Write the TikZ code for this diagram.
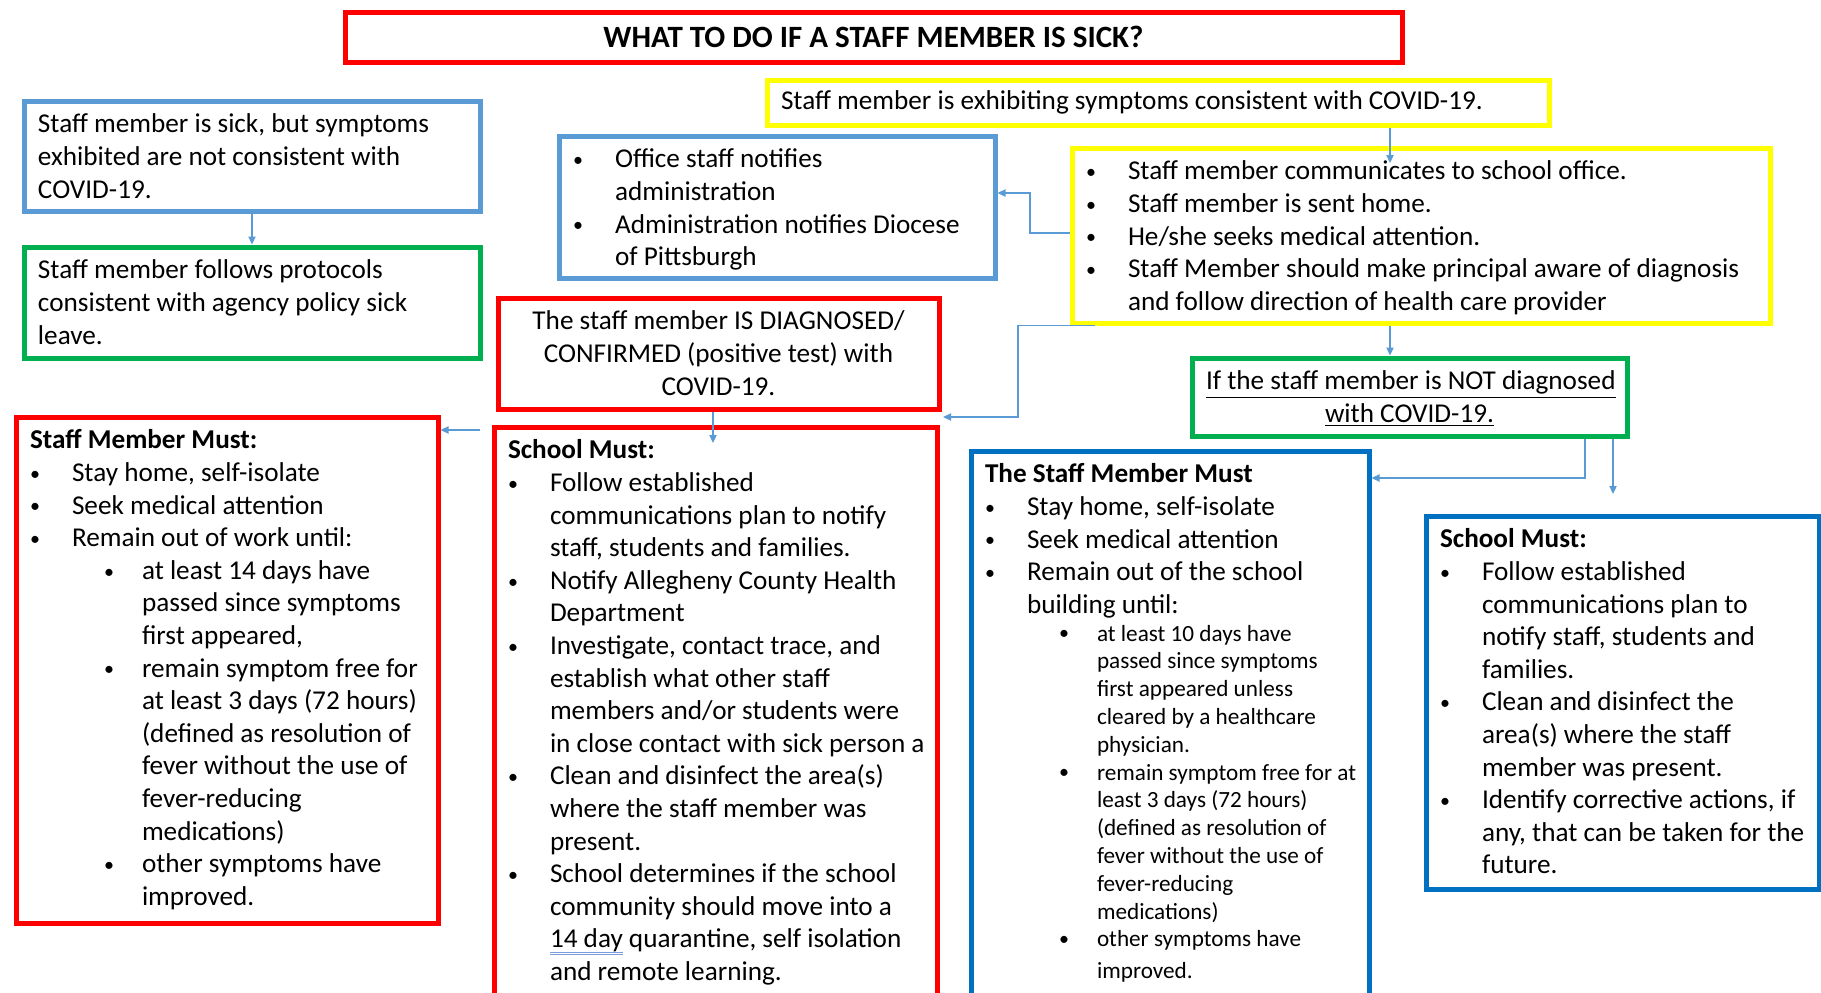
\documentclass[tikz,border=0pt]{standalone}
\usepackage{fontspec}
\setmainfont{Carlito}
\usetikzlibrary{arrows.meta}

\definecolor{boxred}{HTML}{FF0000}
\definecolor{boxblue}{HTML}{5B9BD5}
\definecolor{boxgreen}{HTML}{00B050}
\definecolor{boxyellow}{HTML}{FFFF00}
\definecolor{boxnavy}{HTML}{0070C0}
\definecolor{linkblue}{HTML}{5B9BD5}
\definecolor{ulblue}{HTML}{7B9CDB}

% text block of a box: outer width and height in px
\newcommand{\bx}[3]{\parbox[c][\dimexpr #2pt/2-11.5pt\relax][t]{\dimexpr #1pt/2-16.5pt\relax}{\rightskip=0pt plus 1fil minus 40pt\relax #3}}
\newcommand{\bulletdot}{\raisebox{0.6pt}{\fontsize{10pt}{10pt}\selectfont\textbullet}}
\newcommand{\bul}[1]{\par\hangindent=21pt\hangafter=1\noindent\strut\makebox[21pt][l]{\bulletdot}#1}
\newcommand{\subbul}[1]{\par\hangindent=56pt\hangafter=1\noindent\strut\hspace*{37pt}\makebox[19pt][l]{\bulletdot}#1}
\newlength\ulw
\newcommand{\dbl}[1]{\settowidth{\ulw}{#1}\rlap{\color{ulblue}\rule[-2.4pt]{\ulw}{0.5pt}\llap{\rule[-3.6pt]{\ulw}{0.5pt}}}#1}

\begin{document}
\begin{tikzpicture}[x=0.5pt,y=-0.5pt,
    box/.style={draw, line width=2.5pt, anchor=north west, inner xsep=7pt, inner ysep=4.5pt,
      font=\fontsize{13.6pt}{16.3pt}\selectfont},
    redbox/.style={box, draw=boxred},
    bluebox/.style={box, draw=boxblue},
    greenbox/.style={box, draw=boxgreen},
    yellowbox/.style={box, draw=boxyellow},
    navybox/.style={box, draw=boxnavy},
    link/.style={draw=linkblue, line width=0.75pt, -{Triangle[length=4pt,width=3.6pt]}}]
  \useasboundingbox (0,0) rectangle (1821,992);

  % Titel
  \node[redbox, inner sep=0pt, minimum width=528.5pt, minimum height=25pt,
    font=\fontsize{15.5pt}{18pt}\selectfont\bfseries] (title) at (342.5,9.5)
    {WHAT TO DO IF A STAFF MEMBER IS SICK?};

  % linke Spalte
  \node[bluebox] (sick) at (21.5,98.5) {\bx{461}{115}{\strut Staff member is sick, but symptoms\\
    exhibited are not consistent with\\COVID-19.}};
  \node[greenbox] (prot) at (21.5,244.5) {\bx{461}{116}{\strut Staff member follows protocols\\
    consistent with agency policy sick\\leave.}};

  % Meldung
  \node[yellowbox, inner ysep=0pt, minimum height=22.5pt] (exhib) at (764.5,77.5)
    {\makebox[377pt][l]{\strut Staff member is exhibiting symptoms consistent with COVID-19.}};
  \node[yellowbox] (comm) at (1069.5,145.5) {\bx{703}{180}{%
    \bul{Staff member communicates to school office.}
    \bul{Staff member is sent home.}
    \bul{He/she seeks medical attention.}
    \bul{Staff Member should make principal aware of diagnosis\\and follow direction of health care provider}}};
  \node[bluebox] (office) at (556.5,133.5) {\bx{441}{147}{%
    \bul{Office staff notifies\\administration}
    \bul{Administration notifies Diocese\\of Pittsburgh}}};

  % Diagnose
  \node[redbox] (diag) at (495.5,295.5) {\bx{446}{116}{\centering
    \strut The staff member IS DIAGNOSED/\\CONFIRMED (positive test) with\\COVID-19.}};
  \node[greenbox] (notdiag) at (1189.5,355.5) {\bx{440}{83}{\centering
    \strut\underline{If the staff member is NOT diagnosed}\\\underline{with COVID-19.}}};

  \node[redbox] (staffmust) at (13.5,414.5) {\bx{427}{511}{%
    \strut\textbf{Staff Member Must:}
    \bul{Stay home, self-isolate}
    \bul{Seek medical attention}
    \bul{Remain out of work until:}
    \subbul{at least 14 days have\\passed since symptoms\\first appeared,}
    \subbul{remain symptom free for\\at least 3 days (72 hours)\\(defined as resolution of\\fever without the use of\\fever-reducing\\medications)}
    \subbul{other symptoms have\\improved.}}};
  \node[redbox] (school) at (491.5,424.5) {\bx{448}{588}{%
    \strut\textbf{School Must:}
    \bul{Follow established\\communications plan to notify\\staff, students and families.}
    \bul{Notify Allegheny County Health\\Department}
    \bul{Investigate, contact trace, and\\establish what other staff\\members and/or students were\\in close contact with sick person a}
    \bul{Clean and disinfect the area(s)\\where the staff member was\\present.}
    \bul{School determines if the school\\community should move into a\\\dbl{14 day} quarantine, self isolation\\and remote learning.}}};
  \node[navybox] (smember) at (968.5,448.5) {\bx{403}{564}{%
    \strut\textbf{The Staff Member Must}
    \bul{Stay home, self-isolate}
    \bul{Seek medical attention}
    \bul{Remain out of the school\\building until:}\par
    {\fontsize{11.6pt}{13.9pt}\selectfont
    \subbul{at least 10 days have\\passed since symptoms\\first appeared unless\\cleared by a healthcare\\physician.}
    \subbul{remain symptom free for at\\least 3 days (72 hours)\\(defined as resolution of\\fever without the use of\\fever-reducing\\medications)}
    \subbul{other symptoms have\\[1.8pt]improved.}\par}}};
  \node[navybox] (school2) at (1423.5,513.5) {\bx{398}{378}{%
    \strut\textbf{School Must:}
    \bul{Follow established\\communications plan to\\notify staff, students and\\families.}
    \bul{Clean and disinfect the\\area(s) where the staff\\member was present.}
    \bul{Identify corrective actions, if\\any, that can be taken for the\\future.}}};

  % Pfeile
  \coordinate (in1) at (1390,163);
  \coordinate (bend1) at (1030,193);
  \coordinate (bend2) at (1018,417);
  \coordinate (tip2) at (943,417);
  \coordinate (in2) at (713,443);
  \coordinate (src3) at (480,430);
  \coordinate (bend3) at (1585,478);
  \coordinate (tip4) at (1613,494);

  \draw[link] (sick.south) -- (prot.north);
  \draw[link] (exhib.south -| in1) -- (in1);
  \draw[link] (comm.west |- 0,233) -| (bend1) -- (office.east |- bend1);
  \draw[link] ([xshift=12.75pt]comm.south west) -| (bend2) -- (tip2);
  \draw[link] (comm.south -| in1) -- (notdiag.north -| in1);
  \draw[link] (diag.south -| in2) -- (in2);
  \draw[link] (src3) -- (staffmust.east |- src3);
  \draw[link] (notdiag.south -| bend3) -- (bend3) -- (smember.east |- bend3);
  \draw[link] (notdiag.south -| tip4) -- (tip4);
\end{tikzpicture}
\end{document}
